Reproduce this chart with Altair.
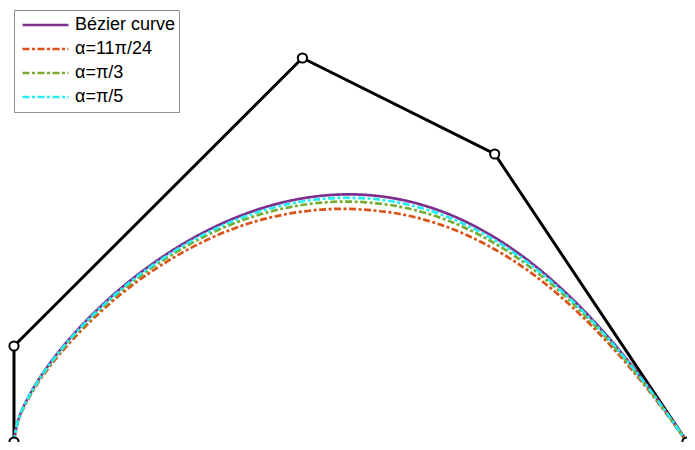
import altair as alt
import pandas as pd

# Control polygon (data units)
ctrl_x = [0, 0, 3, 5, 7]
ctrl_y = [0, 1, 4, 3, 0]

# Curves (shared x samples)
curve_x = [0.000, 0.043, 0.165, 0.354, 0.600, 0.895, 1.229, 1.594, 1.984, 2.392, 2.813,
           3.241, 3.672, 4.104, 4.533, 4.957, 5.376, 5.789, 6.197, 6.600, 7.000]
bezier_y = [0.000, 0.227, 0.497, 0.793, 1.101, 1.406, 1.697, 1.961, 2.189, 2.371, 2.500,
            2.569, 2.573, 2.507, 2.369, 2.156, 1.869, 1.507, 1.073, 0.569, 0.000]
a1124_y = [0.000, 0.217, 0.477, 0.763, 1.056, 1.351, 1.632, 1.881, 2.094, 2.261, 2.370,
           2.424, 2.418, 2.357, 2.229, 2.031, 1.764, 1.422, 1.013, 0.539, 0.000]
api3_y = [0.000, 0.222, 0.487, 0.778, 1.079, 1.379, 1.665, 1.921, 2.142, 2.316, 2.435,
          2.497, 2.496, 2.432, 2.299, 2.094, 1.817, 1.465, 1.043, 0.554, 0.000]
api5_y = [0.000, 0.225, 0.492, 0.786, 1.091, 1.393, 1.682, 1.943, 2.167, 2.345, 2.470,
          2.535, 2.537, 2.472, 2.336, 2.127, 1.844, 1.487, 1.059, 0.562, 0.000]

series_names = ["Bézier curve", "α=11π/24", "α=π/3", "α=π/5"]
series_colors = ["#7E2F8E", "#D95319", "#77AC30", "#22EEF4"]
series_dash = [[1, 0], [7, 2.5, 3, 2.5], [7, 2.5, 3, 2.5], [7, 2.5, 3, 2.5]]

rows = []
for name, ys in zip(series_names, [bezier_y, a1124_y, api3_y, api5_y]):
    for x, y in zip(curve_x, ys):
        rows.append({"x": x, "y": y, "series": name})
curves = pd.DataFrame(rows)
ctrl = pd.DataFrame({"x": ctrl_x, "y": ctrl_y, "i": list(range(len(ctrl_x)))})

xs = alt.Scale(domain=[-0.0624, 7.0], nice=False, zero=False)
ys = alt.Scale(domain=[0.0, 4.521], nice=False, zero=False)

poly = alt.Chart(ctrl).mark_line(color="black", strokeWidth=3).encode(
    x=alt.X("x:Q", scale=xs, axis=None),
    y=alt.Y("y:Q", scale=ys, axis=None),
    order="i:Q",
)

pts = alt.Chart(ctrl).mark_point(
    shape="circle", filled=True, fill="white", stroke="black", strokeWidth=2, size=85, opacity=1
).encode(
    x=alt.X("x:Q", scale=xs, axis=None),
    y=alt.Y("y:Q", scale=ys, axis=None),
)

lines = alt.Chart(curves).mark_line(strokeWidth=2.7, interpolate="catmull-rom").encode(
    x=alt.X("x:Q", scale=xs, axis=None),
    y=alt.Y("y:Q", scale=ys, axis=None),
    color=alt.Color("series:N", scale=alt.Scale(domain=series_names, range=series_colors),
                    legend=alt.Legend(title=None, orient="none", legendX=6, legendY=2)),
    strokeDash=alt.StrokeDash("series:N", scale=alt.Scale(domain=series_names, range=series_dash),
                              legend=alt.Legend(title=None, orient="none", legendX=6, legendY=2)),
)

chart = alt.layer(poly, lines, pts).properties(
    width=679, height=434, autosize=alt.AutoSizeParams(type="none"), padding=0
).configure_view(stroke=None).configure_legend(
    symbolType="stroke",
    symbolSize=2116,
    symbolStrokeWidth=2.7,
    labelFont="Liberation Sans",
    labelFontSize=18,
    labelColor="black",
    labelOffset=5,
    strokeColor="#8c8c8c",
    fillColor="white",
    padding=3,
    symbolOffset=4,
    clipHeight=24,
    rowPadding=0,
    labelLimit=300,
)

chart.save("out.html", embed_options={"renderer": "svg", "actions": False})
